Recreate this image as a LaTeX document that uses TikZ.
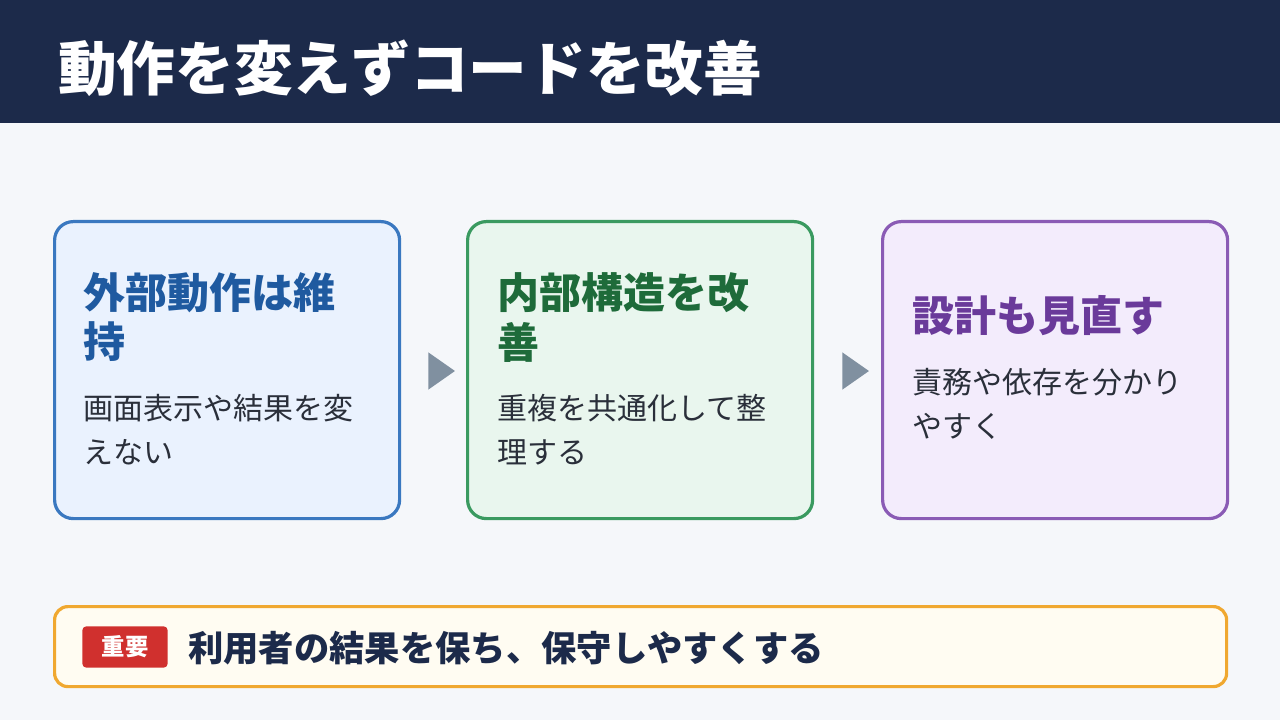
\documentclass[tikz,border=0pt]{standalone}
\usepackage{fontspec}
\setmainfont{Noto Sans CJK JP}
\usetikzlibrary{positioning,shapes.geometric,calc}
\definecolor{navy}{HTML}{1C2A4A}
\definecolor{bgpage}{HTML}{F5F7FA}
\definecolor{txtdark}{HTML}{2A2F3A}
\definecolor{blueline}{HTML}{3A78C0}\definecolor{bluefill}{HTML}{EAF2FE}\definecolor{bluetxt}{HTML}{1F5AA0}
\definecolor{greenline}{HTML}{3A9A60}\definecolor{greenfill}{HTML}{E9F6EE}\definecolor{greentxt}{HTML}{1E6B3A}
\definecolor{purpline}{HTML}{8A5BB5}\definecolor{purpfill}{HTML}{F3ECFC}\definecolor{purptxt}{HTML}{6A3A9A}
\definecolor{orangeline}{HTML}{F0A830}\definecolor{creamfill}{HTML}{FFFCF2}
\definecolor{badgered}{HTML}{D0302E}\definecolor{arrowgray}{HTML}{8090A0}
\tikzset{
  card/.style={draw=#1line,fill=#1fill,line width=2.4pt,rounded corners=14pt,minimum width=258.75pt,minimum height=222.75pt,anchor=north west},
  cardtitle/.style={anchor=west,font=\bfseries\fontsize{31.5}{36}\selectfont,text=#1txt,inner sep=0pt},
  cardbody/.style={anchor=west,font=\fontsize{22.5}{27}\selectfont,text=txtdark,inner sep=0pt},
  steparrow/.style={isosceles triangle,isosceles triangle apex angle=70,fill=arrowgray,minimum height=20pt,inner sep=0pt},
}
\begin{document}
\begin{tikzpicture}[x=0.75pt,y=-0.75pt]
\useasboundingbox (0,0) rectangle (1280,720);
\fill[bgpage] (0,0) rectangle (1280,720);
\fill[navy] (0,0) rectangle (1280,123);
\node[anchor=west,text=white,font=\bfseries\fontsize{44}{50}\selectfont,inner sep=0pt] (title) at (58,68) {動作を変えずコードを改善};

% cards
\node[card=blue] (c1) at (53,220) {};
\node[card=green] (c2) at (466,220) {};
\node[card=purp] (c3) at (881,220) {};

\node[cardtitle=blue] (t1a) at (83,293) {外部動作は維};
\node[cardtitle=blue] (t1b) at (83,342) {持};
\node[cardbody] (b1a) at (83,408) {画面表示や結果を変};
\node[cardbody] (b1b) at (83,452) {えない};

\node[cardtitle=green] (t2a) at (497,293) {内部構造を改};
\node[cardtitle=green] (t2b) at (497,342) {善};
\node[cardbody] (b2a) at (497,408) {重複を共通化して整};
\node[cardbody] (b2b) at (497,452) {理する};

\node[cardtitle=purp] (t3a) at (912,316) {設計も見直す};
\node[cardbody] (b3a) at (912,382) {責務や依存を分かり};
\node[cardbody] (b3b) at (912,426) {やすく};

% steps
\node[steparrow] (s1) at (438,371) {};
\node[steparrow] (s2) at (852,371) {};

% note
\node[draw=orangeline,fill=creamfill,line width=2.4pt,rounded corners=10pt,minimum width=879pt,minimum height=60pt,anchor=north west] (note) at (53,605) {};
\node[fill=badgered,rounded corners=3pt,minimum width=64pt,minimum height=31pt,inner sep=0pt,text=white,font=\bfseries\fontsize{17.5}{20}\selectfont] (badge) at (125,647) {重要};
\node[anchor=west,inner sep=0pt,text=navy,font=\bfseries\fontsize{26.5}{30}\selectfont] (msg) at (188,648) {利用者の結果を保ち、保守しやすくする};
\end{tikzpicture}
\end{document}
